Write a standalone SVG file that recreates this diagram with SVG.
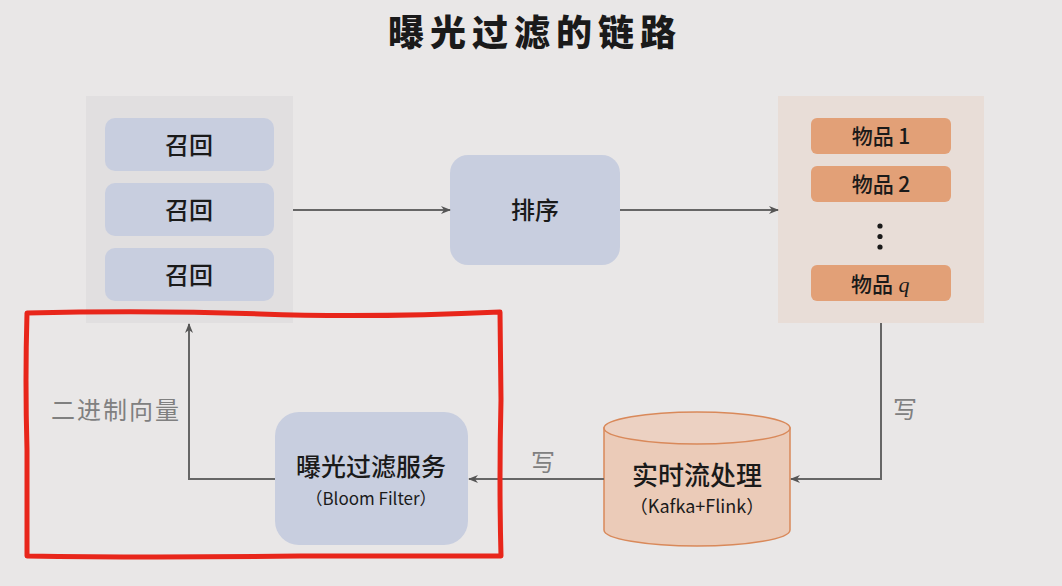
<svg xmlns="http://www.w3.org/2000/svg" width="1062" height="586" viewBox="0 0 1062 586">
<defs>
<marker id="ah" viewBox="0 0 10 10" refX="9" refY="5" markerWidth="10" markerHeight="10" markerUnits="userSpaceOnUse" orient="auto">
<path d="M0,1 L10,5 L0,9 L3,5 Z" fill="#555"/>
</marker>
<style>
.t{font-family:"Noto Sans CJK SC","Noto Sans",sans-serif;fill:#1a1a1a;text-anchor:middle}
.blue{fill:#c8cedf}
.item{fill:#e2a077}
.conn{stroke:#666;stroke-width:2;fill:none}
.lbl{font-family:"Noto Sans CJK SC",sans-serif;fill:#808080;font-size:24px;text-anchor:middle}
</style>
</defs>
<rect width="1062" height="586" fill="#e9e7e7"/>
<text x="535" y="46" class="t" font-size="36" font-weight="900" letter-spacing="6">曝光过滤的链路</text>

<g id="recall-panel">
<rect x="86" y="96" width="207" height="227" fill="#e1dfe0"/>
<rect x="105" y="118" width="169" height="53" rx="10" class="blue"/>
<text x="189" y="154" class="t" font-size="24" font-weight="500">召回</text>
<rect x="105" y="183" width="169" height="53" rx="10" class="blue"/>
<text x="189" y="219" class="t" font-size="24" font-weight="500">召回</text>
<rect x="105" y="248" width="169" height="53" rx="10" class="blue"/>
<text x="189" y="284" class="t" font-size="24" font-weight="500">召回</text>
</g>

<g id="sort">
<rect x="450" y="155" width="170" height="110" rx="18" class="blue"/>
<text x="535" y="219" class="t" font-size="24" font-weight="500">排序</text>
</g>

<g id="items-panel">
<rect x="778" y="96" width="206" height="227" fill="#e8ddd7"/>
<rect x="811" y="118" width="140" height="36" rx="6" class="item"/>
<text x="881" y="144" class="t" font-size="21" font-weight="500">物品 1</text>
<rect x="811" y="166" width="140" height="36" rx="6" class="item"/>
<text x="881" y="192" class="t" font-size="21" font-weight="500">物品 2</text>
<circle cx="880" cy="226" r="2.6" fill="#1a1a1a"/>
<circle cx="880" cy="236.5" r="2.6" fill="#1a1a1a"/>
<circle cx="880" cy="247" r="2.6" fill="#1a1a1a"/>
<rect x="811" y="265" width="140" height="36" rx="6" class="item"/>
<text x="872" y="292" class="t" font-size="21" font-weight="500">物品</text>
<text x="904" y="292" class="t" font-size="22" font-style="italic" style="font-family:'Liberation Serif',serif">q</text>
</g>

<g id="stream">
<path d="M604,428 L604,530 A93,16 0 0 0 790,530 L790,428 Z" fill="#ebcbb8" stroke="#d9895a" stroke-width="1.5"/>
<ellipse cx="697" cy="428" rx="93" ry="16" fill="#ecd1c2" stroke="#d9895a" stroke-width="1.5"/>
<text x="697" y="485" class="t" font-size="26" font-weight="500">实时流处理</text>
<text x="697" y="513" class="t" font-size="18">（Kafka+Flink）</text>
</g>

<g id="bloom">
<rect x="275" y="412" width="193" height="133" rx="24" class="blue"/>
<text x="371" y="476" class="t" font-size="25" font-weight="500">曝光过滤服务</text>
<text x="371" y="505" class="t" font-size="17">（Bloom Filter）</text>
</g>

<g id="connectors">
<line x1="293" y1="210" x2="450" y2="210" class="conn" marker-end="url(#ah)"/>
<line x1="620" y1="210" x2="778" y2="210" class="conn" marker-end="url(#ah)"/>
<polyline points="881,323 881,479 791,479" class="conn" marker-end="url(#ah)"/>
<line x1="604" y1="479" x2="469" y2="479" class="conn" marker-end="url(#ah)"/>
<polyline points="275,479 189,479 189,324" class="conn" marker-end="url(#ah)"/>
<text x="905" y="418" class="lbl">写</text>
<text x="543" y="471" class="lbl">写</text>
<text x="116" y="419" class="lbl" letter-spacing="2">二进制向量</text>
</g>

<g id="highlight">
<path d="M27,313 Q150,310 260,314 T500,312 L501,400 Q499,480 501,556 L300,556 Q150,558 27,556 L27,450 Q25,380 27,313 Z" fill="none" stroke="#e8261b" stroke-width="5" stroke-linejoin="round"/>
</g>
</svg>
